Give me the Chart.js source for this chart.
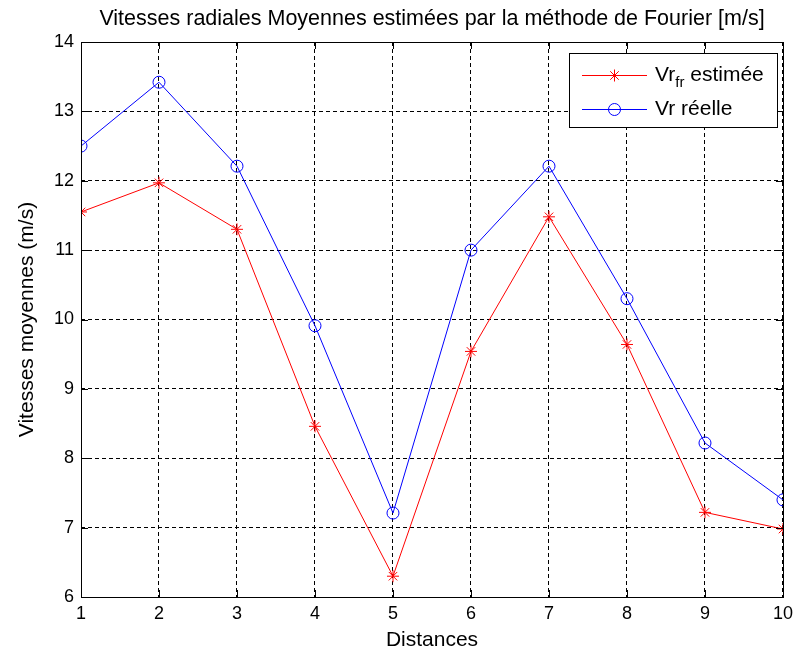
<!DOCTYPE html>
<html>
<head>
<meta charset="utf-8">
<script src="https://cdn.jsdelivr.net/npm/chart.js@4"></script>
<style>
html,body{margin:0;padding:0;background:#fff;}
#wrap{width:799px;height:659px;}
</style>
</head>
<body>
<div id="wrap"><canvas id="c" width="799" height="659"></canvas></div>
<script>
const distances = [1, 2, 3, 4, 5, 6, 7, 8, 9, 10];
const vrEstimee = [11.55, 11.97, 11.30, 8.46, 6.30, 9.54, 11.48, 9.64, 7.22, 6.98];
const vrReelle  = [12.50, 13.42, 12.21, 9.91, 7.21, 11.00, 12.21, 10.30, 8.22, 7.40];
const yTicks = [6, 7, 8, 9, 10, 11, 12, 13, 14];

const FONT = "'Liberation Sans', Arial, sans-serif";

const boxPlugin = {
  id: 'boxPlugin',
  afterDraw(chart) {
    const {ctx, chartArea: a, scales} = chart;
    ctx.save();
    ctx.strokeStyle = '#000';
    ctx.lineWidth = 1;
    ctx.setLineDash([]);
    ctx.strokeRect(Math.round(a.left) + 0.5, Math.round(a.top) + 0.5,
                   Math.round(a.right - a.left), Math.round(a.bottom - a.top));
    const tl = 7;
    ctx.beginPath();
    distances.forEach(v => {
      const x = Math.round(scales.x.getPixelForValue(v)) + 0.5;
      ctx.moveTo(x, a.bottom); ctx.lineTo(x, a.bottom - tl);
      ctx.moveTo(x, a.top); ctx.lineTo(x, a.top + tl);
    });
    yTicks.forEach(v => {
      const y = Math.round(scales.y.getPixelForValue(v)) + 0.5;
      ctx.moveTo(a.left, y); ctx.lineTo(a.left + tl, y);
      ctx.moveTo(a.right, y); ctx.lineTo(a.right - tl, y);
    });
    ctx.stroke();

    // legend
    const lx = 569, ly = 53, lw = 208, lh = 74;
    ctx.fillStyle = '#fff';
    ctx.fillRect(lx, ly, lw, lh);
    ctx.strokeStyle = '#000';
    ctx.strokeRect(lx + 0.5, ly + 0.5, lw, lh);
    const rows = [
      {ds: chart.data.datasets[0], y: 75},
      {ds: chart.data.datasets[1], y: 109}
    ];
    rows.forEach((r, i) => {
      ctx.strokeStyle = r.ds.borderColor;
      ctx.lineWidth = 1;
      ctx.beginPath();
      ctx.moveTo(582, r.y + 0.5); ctx.lineTo(647, r.y + 0.5);
      ctx.stroke();
      ctx.fillStyle = 'rgba(0,0,0,0)';
      ctx.strokeStyle = r.ds.borderColor;
      Chart.helpers.drawPoint(ctx, {pointStyle: r.ds.pointStyle, radius: 6, rotation: 0, borderWidth: 1}, 614.5, r.y + 0.5);
      ctx.fillStyle = '#000';
      ctx.textBaseline = 'middle';
      ctx.textAlign = 'left';
      ctx.font = "21px " + FONT;
      if (i === 0) {
        ctx.fillText('Vr', 655, r.y);
        const w = ctx.measureText('Vr').width;
        ctx.font = "15px " + FONT;
        ctx.fillText('fr', 655 + w, r.y + 8);
        const w2 = ctx.measureText('fr').width;
        ctx.font = "21px " + FONT;
        ctx.fillText(' estimée', 655 + w + w2, r.y);
      } else {
        ctx.fillText('Vr réelle', 655, r.y);
      }
    });
    ctx.restore();
  }
};

new Chart(document.getElementById('c'), {
  type: 'line',
  data: {
    labels: distances,
    datasets: [
      {
        label: 'Vr_fr estimée',
        data: vrEstimee,
        borderColor: '#ff0000',
        backgroundColor: '#ff0000',
        borderWidth: 1,
        pointStyle: 'star',
        pointRadius: 6,
        pointBorderWidth: 1,
        pointBorderColor: '#ff0000',
        pointBackgroundColor: 'transparent',
        tension: 0
      },
      {
        label: 'Vr réelle',
        data: vrReelle,
        borderColor: '#0000ff',
        backgroundColor: 'transparent',
        borderWidth: 1,
        pointStyle: 'circle',
        pointRadius: 6,
        pointBorderWidth: 1,
        pointBorderColor: '#0000ff',
        pointBackgroundColor: 'transparent',
        tension: 0
      }
    ]
  },
  options: {
    responsive: false,
    animation: false,
    devicePixelRatio: 1,
    layout: {padding: {left: 0, right: 12, top: 0, bottom: 0}},
    plugins: {
      legend: {display: false},
      tooltip: {enabled: false},
      title: {
        display: true,
        fullSize: false,
        text: 'Vitesses radiales Moyennes estimées par la méthode de Fourier [m/s]',
        color: '#000',
        font: {family: FONT, size: 21.5, weight: 'normal', lineHeight: 1.2},
        padding: {top: 6, bottom: 10.2}
      }
    },
    scales: {
      x: {
        type: 'linear',
        min: 1, max: 10,
        afterFit(s) { s.height = 62; },
        afterBuildTicks(s) { s.ticks = distances.map(v => ({value: v})); },
        ticks: {color: '#000', font: {family: FONT, size: 18}, padding: 6, autoSkip: false, maxRotation: 0},
        grid: {color: '#000', lineWidth: 1, drawTicks: false},
        border: {display: false, dash: [4, 3]},
        title: {display: true, text: 'Distances', color: '#000', font: {family: FONT, size: 21}, padding: {top: 0, bottom: 6}}
      },
      y: {
        type: 'linear',
        min: 6, max: 14,
        afterFit(s) { s.width = 81; },
        afterBuildTicks(s) { s.ticks = yTicks.map(v => ({value: v})); },
        ticks: {color: '#000', font: {family: FONT, size: 18}, padding: 7},
        grid: {color: '#000', lineWidth: 1, drawTicks: false},
        border: {display: false, dash: [4, 3]},
        title: {display: true, text: 'Vitesses moyennes (m/s)', color: '#000', font: {family: FONT, size: 21}, padding: {top: 15, bottom: 0}}
      }
    }
  },
  plugins: [boxPlugin]
});
</script>
</body>
</html>
